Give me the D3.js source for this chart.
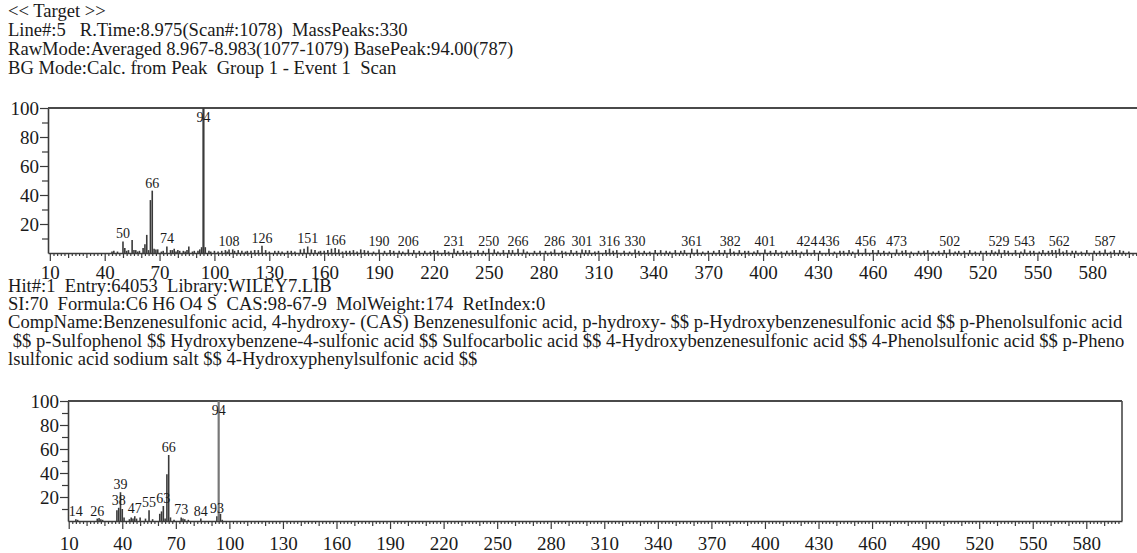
<!DOCTYPE html>
<html>
<head>
<meta charset="utf-8">
<script src="https://cdn.jsdelivr.net/npm/d3@7"></script>
<style>
  html, body { margin: 0; padding: 0; background: #fff; }
  svg { display: block; }
  text { font-family: "Liberation Serif", "Times New Roman", serif; fill: #1a1a1a; white-space: pre; }
</style>
</head>
<body>
<svg id="chart" width="1137" height="553"></svg>
<script>
// ---- header / hit information ----
const headerLines = [
  "<< Target >>",
  "Line#:5   R.Time:8.975(Scan#:1078)  MassPeaks:330",
  "RawMode:Averaged 8.967-8.983(1077-1079) BasePeak:94.00(787)",
  "BG Mode:Calc. from Peak  Group 1 - Event 1  Scan"
];
const hitLines = [
  "Hit#:1  Entry:64053  Library:WILEY7.LIB",
  "SI:70  Formula:C6 H6 O4 S  CAS:98-67-9  MolWeight:174  RetIndex:0",
  "CompName:Benzenesulfonic acid, 4-hydroxy- (CAS) Benzenesulfonic acid, p-hydroxy- $$ p-Hydroxybenzenesulfonic acid $$ p-Phenolsulfonic acid",
  " $$ p-Sulfophenol $$ Hydroxybenzene-4-sulfonic acid $$ Sulfocarbolic acid $$ 4-Hydroxybenzenesulfonic acid $$ 4-Phenolsulfonic acid $$ p-Pheno",
  "lsulfonic acid sodium salt $$ 4-Hydroxyphenylsulfonic acid $$"
];

// ---- axis tick labels ----
const mzTickLabels = [10, 40, 70, 100, 130, 160, 190, 220, 250, 280, 310, 340, 370, 400, 430, 460, 490, 520, 550, 580];
const intensityTickLabels = [20, 40, 60, 80, 100];

// ---- measured spectrum: main peaks (m/z, relative intensity %) ----
const targetMz = [
  50, 51, 53, 55, 57, 61, 62, 63, 64, 65, 66, 67, 68, 69, 74, 76, 78, 80, 83, 86,
  91, 92, 93, 94, 95, 97, 104, 108, 110, 113, 115, 120, 122, 124, 126, 133, 140, 147, 149, 151,
  153, 158, 162, 164, 166, 168, 172, 176, 180, 184, 190, 193, 196, 201, 206, 209, 215, 222, 226, 231,
  236, 240, 244, 250, 253, 258, 263, 266, 269, 275, 281, 286, 290, 295, 301, 305, 310, 314, 316, 320,
  324, 330, 335, 341, 347, 352, 357, 361, 364, 370, 376, 382, 387, 392, 397, 401, 407, 413, 418, 424,
  428, 436, 442, 447, 452, 456, 460, 466, 473, 478, 485, 490, 496, 502, 507, 513, 519, 525, 529, 534,
  538, 543, 548, 553, 558, 562, 566, 571, 577, 581, 587, 592, 597
];
const targetIntensity = [
  8, 3.5, 2, 9, 2, 3.5, 6, 12.5, 2, 36.5, 43, 3, 2.5, 2.5, 4.5, 2, 3, 2, 1.5, 4.5,
  1.5, 2.5, 4, 100, 4, 1.5, 1.5, 2.5, 2.5, 2, 1.5, 1.5, 2, 2, 5, 1.5, 1.5, 2.5, 3, 4.5,
  2.5, 1.5, 2, 3, 3.5, 2.5, 1.5, 2, 2.5, 1.5, 2.5, 1.5, 2, 1.5, 2.5, 2, 1.5, 1.5, 2, 3,
  2, 1.5, 2, 3, 2.5, 2, 2, 3, 2.5, 1.5, 1.5, 2.5, 1.5, 2, 2.5, 2, 1.5, 2, 3, 2,
  1.5, 2.5, 1.5, 2, 1.5, 2, 2, 3, 2.5, 1.5, 2, 3, 2, 1.5, 2, 2.5, 2, 1.5, 2, 2.5,
  2, 3, 1.5, 2, 2.5, 3, 2, 1.5, 2.5, 2, 1.5, 2, 1.5, 2.5, 1.5, 2, 1.5, 2, 2.5, 1.5,
  2, 2.5, 1.5, 2, 2, 3, 2, 1.5, 2, 1.5, 2.5, 2, 1.5
];
// ---- measured spectrum: background-level peaks ----
const targetMinorMz = [
  44, 45, 47, 52, 56, 58, 59, 71, 72, 77, 79, 81, 84, 85, 88, 89, 98, 100, 102, 106,
  107, 111, 117, 118, 128, 130, 135, 137, 142, 144, 155, 157, 160, 170, 174, 178, 182, 187, 198, 203,
  212, 218, 220, 228, 233, 238, 247, 255, 261, 271, 278, 284, 292, 298, 303, 308, 318, 327, 332, 338,
  344, 349, 355, 367, 373, 379, 384, 390, 395, 404, 410, 416, 421, 431, 439, 444, 449, 463, 469, 476,
  481, 488, 493, 499, 505, 510, 516, 522, 527, 532, 541, 546, 551, 556, 560, 564, 569, 574, 584, 590,
  595, 600
];
const targetMinorIntensity = [
  1, 1.5, 1, 1.5, 2, 1, 1.5, 1, 1.5, 2, 1, 1.5, 1, 2, 1, 1.5, 1, 1.5, 1, 2,
  1, 1.5, 1, 1.5, 2, 1, 1.5, 1, 1.5, 1, 2, 1, 1.5, 1, 1.5, 1, 2, 1, 1.5, 1,
  1.5, 1, 2, 1, 1.5, 1, 1.5, 1, 2, 1, 1.5, 1, 1, 1.5, 2, 1, 1.5, 1, 1.5, 1,
  2, 1, 1.5, 1, 1.5, 2, 1, 1.5, 1, 1.5, 1, 2, 1, 1.5, 1, 1.5, 1, 2, 1, 1.5,
  1, 1.5, 1, 2, 1, 1.5, 1, 1.5, 1, 2, 1, 1.5, 1, 1.5, 2, 1, 1.5, 1, 1.5, 1,
  2, 1
];
const targetLabels = [50, 66, 74, 94, 108, 126, 151, 166, 190, 206, 231, 250, 266, 286, 301, 316, 330,
  361, 382, 401, 424, 436, 456, 473, 502, 529, 543, 562, 587];

// ---- library spectrum (m/z, relative intensity %) ----
const libraryMz = [14, 15, 26, 27, 28, 29, 37, 38, 39, 40, 41, 44, 45, 46, 47, 48, 50, 53, 55, 57,
  61, 62, 63, 64, 65, 66, 67, 69, 73, 74, 75, 77, 84, 93, 94, 95, 96];
const libraryIntensity = [1.5, 1, 2, 2.5, 1.5, 1, 9, 11, 24, 10, 3, 1.5, 3, 2, 4, 2, 3, 2, 9, 1.5,
  6, 8, 12.5, 2, 39, 55, 3, 1, 3, 2, 1.5, 1, 2, 4, 100, 6, 1];
const libraryLabels = [14, 26, 38, 39, 47, 55, 63, 66, 73, 84, 93, 94];

const svg = d3.select("#chart");
const INK = "#3a3a3a";
const TEXT_SIZE = "18.6px";

// header text block
svg.append("g").selectAll("text").data(headerLines).join("text")
  .attr("x", 8).attr("y", (d, i) => 17 + i * 19)
  .style("font-size", TEXT_SIZE).text(d => d);

// hit text block
svg.append("g").selectAll("text").data(hitLines).join("text")
  .attr("x", 8).attr("y", (d, i) => 292 + i * 18.2)
  .style("font-size", TEXT_SIZE).text(d => d);

function drawSpectrum(cfg) {
  const { mz, intensity, labels, x, y, boxRight, baseColor } = cfg;
  const g = svg.append("g");
  const [x0] = x.range();
  const yTop = y(100), yBase = y(0);

  // ruler-style x axis: fine ticks every 2, medium every 10, labelled every 30
  const [d0, d1] = x.domain();
  const fine = d3.range(Math.ceil(d0 / 2) * 2, d1, 2).filter(v => v % 10 !== 0);
  const medium = d3.range(Math.ceil(d0 / 10) * 10, d1, 10).filter(v => !mzTickLabels.includes(v));

  g.append("g").attr("transform", `translate(0,${yBase})`)
    .call(d3.axisBottom(x).tickValues(fine).tickSize(3).tickSizeOuter(0).tickFormat(""))
    .call(a => a.select(".domain").remove());
  g.append("g").attr("transform", `translate(0,${yBase})`)
    .call(d3.axisBottom(x).tickValues(medium).tickSize(5).tickSizeOuter(0).tickFormat(""))
    .call(a => a.select(".domain").remove());
  g.append("g").attr("transform", `translate(0,${yBase})`)
    .call(d3.axisBottom(x).tickValues(mzTickLabels).tickSize(8).tickSizeOuter(0).tickPadding(cfg.labelPad))
    .call(a => a.selectAll("text").style("font-size", "19px").style("font-family", "Liberation Serif").attr("fill", "#1a1a1a"));

  // y axis with minor ticks at the odd tens
  g.append("g").attr("transform", `translate(${x0},0)`)
    .call(d3.axisLeft(y).tickValues([10, 30, 50, 70, 90]).tickSize(6).tickSizeOuter(0).tickFormat(""))
    .call(a => a.select(".domain").remove());
  g.append("g").attr("transform", `translate(${x0},0)`)
    .call(d3.axisLeft(y).tickValues(intensityTickLabels).tickSize(8).tickSizeOuter(0).tickPadding(1))
    .call(a => a.selectAll("text").style("font-size", "19px").style("font-family", "Liberation Serif").attr("fill", "#1a1a1a"));

  g.selectAll(".tick line, .domain").attr("stroke", INK).attr("stroke-width", 1.2);
  g.selectAll(".domain").attr("stroke-width", 1.6);

  // frame: top edge (and right edge when the box closes)
  g.append("line").attr("x1", x0).attr("x2", boxRight).attr("y1", yTop).attr("y2", yTop)
    .attr("stroke", "#4a4a4a").attr("stroke-width", 1.8);
  if (cfg.closeRight) {
    g.append("line").attr("x1", boxRight).attr("x2", boxRight).attr("y1", yTop).attr("y2", yBase)
      .attr("stroke", "#4a4a4a").attr("stroke-width", 1.6);
  }

  // peaks
  const peaks = mz.map((m, i) => ({ m, v: intensity[i] }));
  const minor = (cfg.minorMz || []).map((m, i) => ({ m, v: cfg.minorIntensity[i] }));
  g.append("g").selectAll("line").data(minor.concat(peaks)).join("line")
    .attr("x1", d => x(d.m)).attr("x2", d => x(d.m))
    .attr("y1", yBase).attr("y2", d => y(d.v))
    .attr("stroke", d => d.v >= 99 ? baseColor : INK)
    .attr("stroke-width", d => d.v >= 99 ? 2.2 : 1.6);

  // peak labels
  const labelled = peaks.filter(d => labels.includes(d.m));
  g.append("g").selectAll("text").data(labelled).join("text")
    .attr("x", d => x(d.m)).attr("text-anchor", "middle")
    .attr("y", d => Math.max(y(d.v) - 3, yTop + 14))
    .style("font-size", "14px").text(d => d.m);
}

// measured spectrum (box runs off the right edge)
drawSpectrum({
  mz: targetMz, intensity: targetIntensity, labels: targetLabels,
  minorMz: targetMinorMz, minorIntensity: targetMinorIntensity,
  x: d3.scaleLinear().domain([9, 605]).range([48, 1138]),
  y: d3.scaleLinear().domain([0, 100]).range([253, 108]),
  boxRight: 1137, closeRight: false, baseColor: "#3a3a3a", labelPad: 5
});

// library spectrum
drawSpectrum({
  mz: libraryMz, intensity: libraryIntensity, labels: libraryLabels,
  x: d3.scaleLinear().domain([9.6, 600]).range([68, 1122]),
  y: d3.scaleLinear().domain([0, 100]).range([521, 401]),
  boxRight: 1122, closeRight: true, baseColor: "#777", labelPad: 8
});
</script>
</body>
</html>
